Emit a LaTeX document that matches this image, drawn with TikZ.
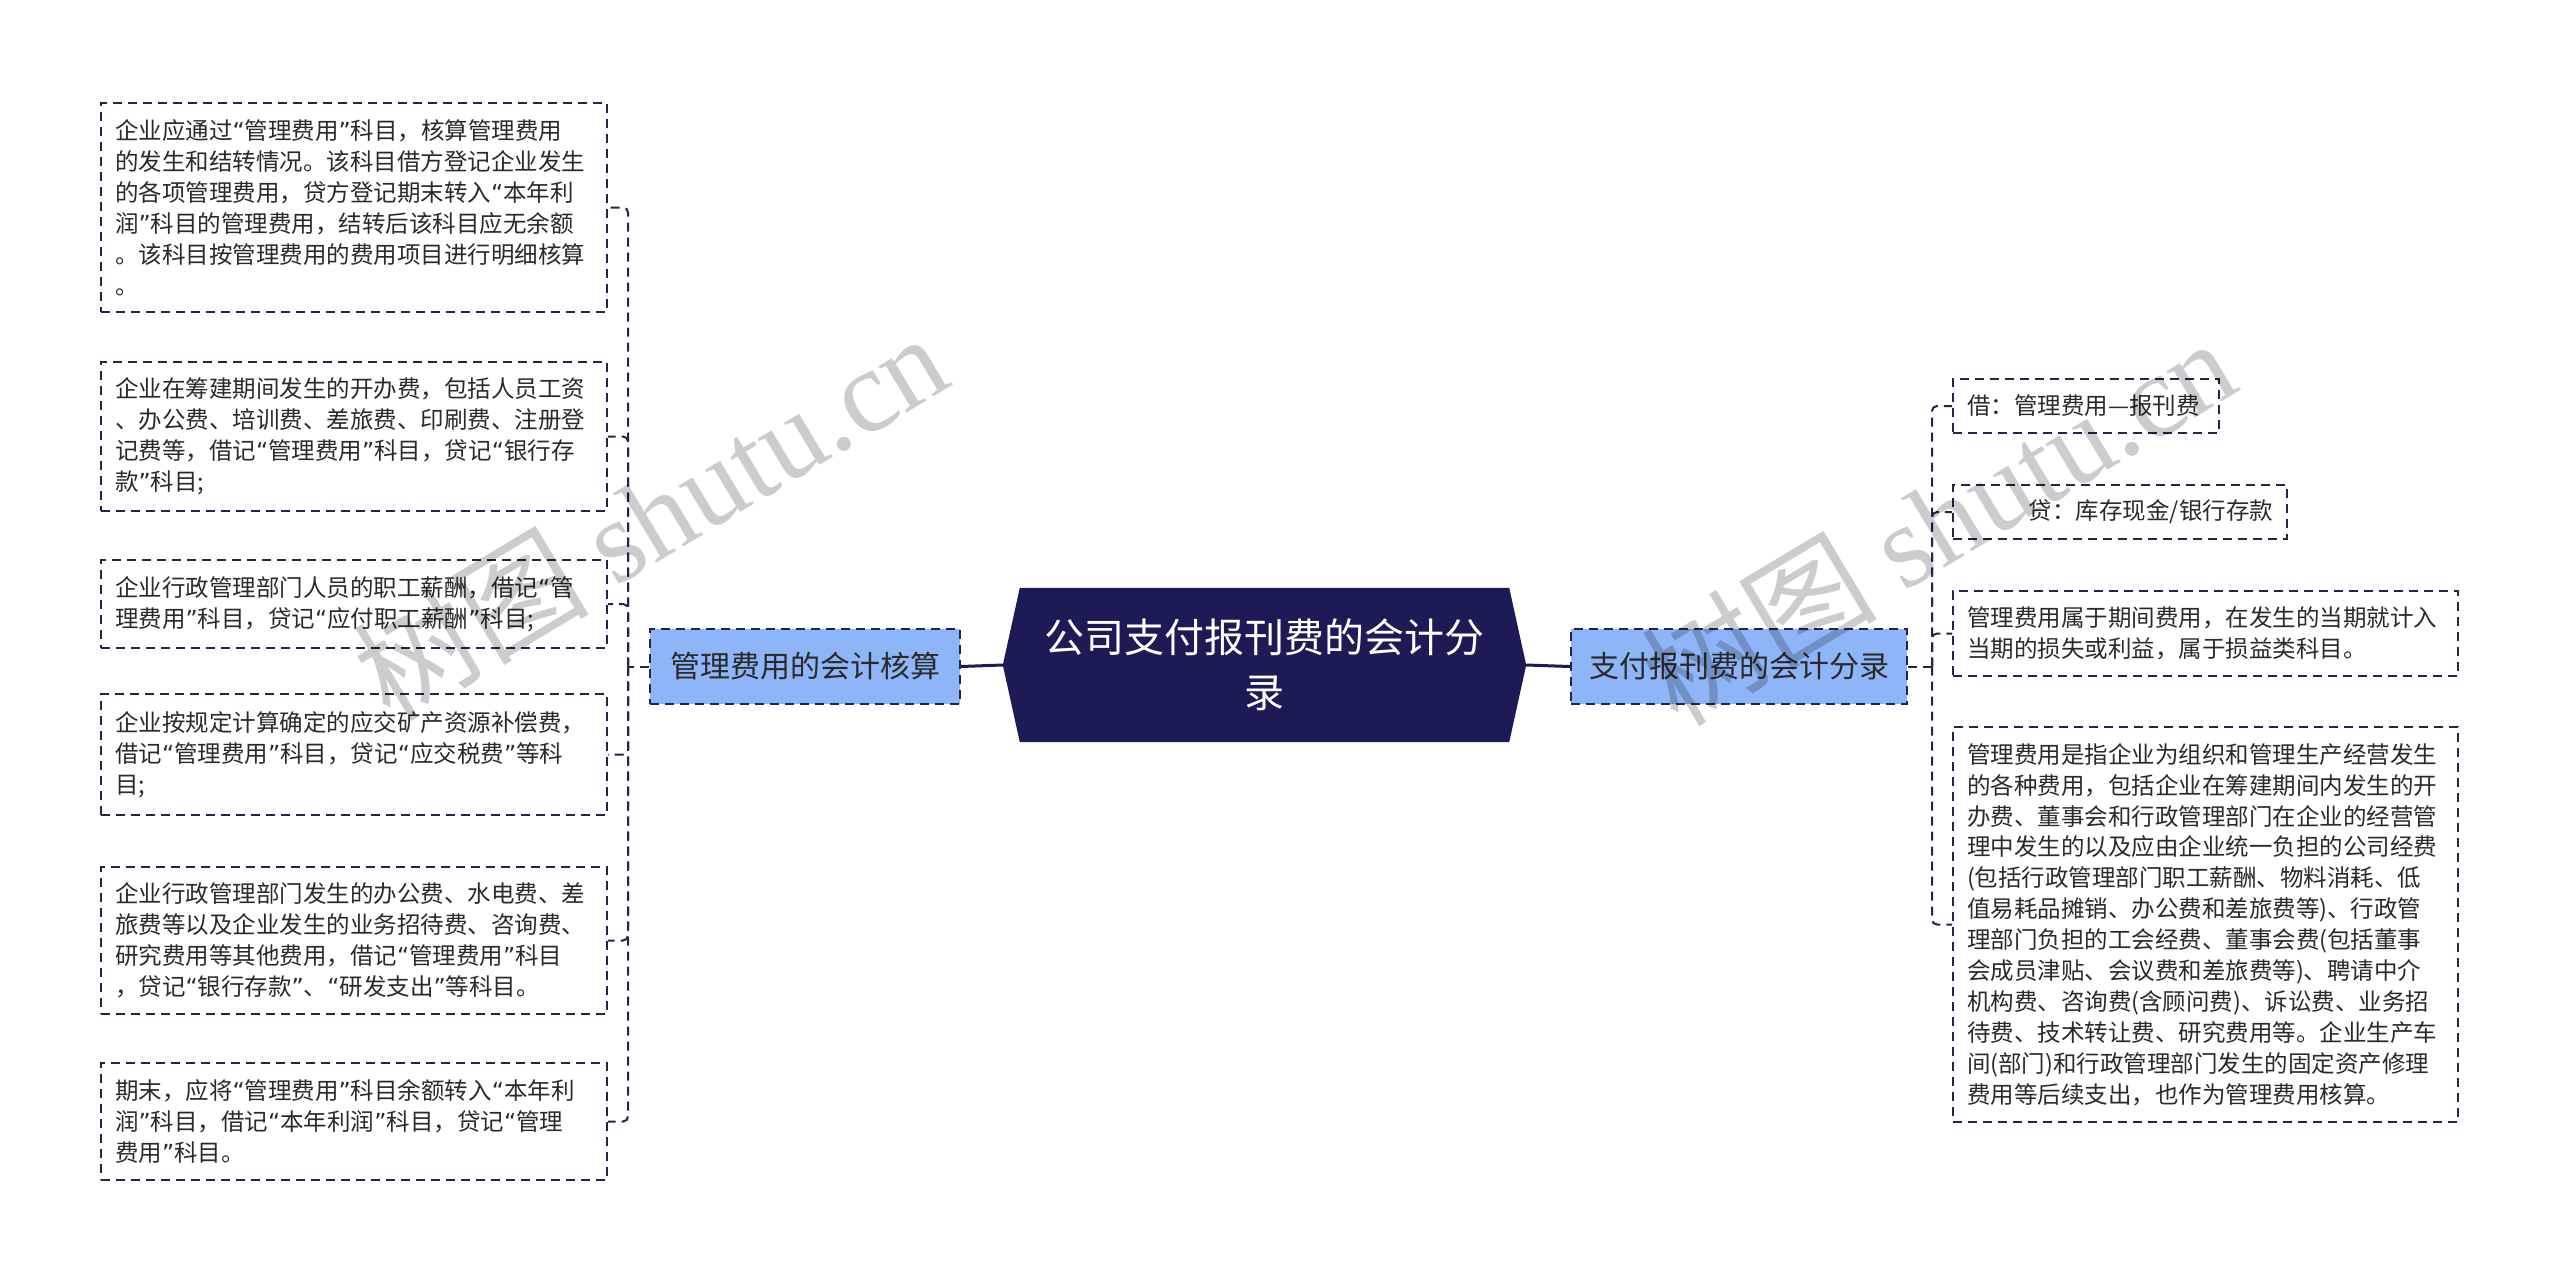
\documentclass[tikz,border=0pt]{standalone}
\usepackage{fontspec}
\setmainfont{Noto Sans CJK SC}
\newfontfamily\wmserif{Liberation Serif}
\newfontfamily\qf{DejaVu Sans}
\usetikzlibrary{calc,backgrounds}
\definecolor{navy}{HTML}{1C1B56}
\definecolor{lineC}{HTML}{24244A}
\definecolor{blueC}{HTML}{8EB5F7}
\definecolor{txt}{HTML}{2A2A2A}
\tikzset{
  leaf/.style={draw=lineC, line width=2pt, dash pattern=on 9pt off 6pt, fill=white,
    font=\fontsize{23.5}{30.9}\selectfont, text=txt, align=left,
    inner xsep=14pt, inner ysep=0pt},
  branch/.style={draw=lineC, line width=2pt, dash pattern=on 9pt off 6pt, fill=blueC,
    font=\fontsize{30}{36}\selectfont, text=txt, inner sep=0pt, minimum height=75pt},
  conn/.style={draw=lineC, line width=2pt, dash pattern=on 9pt off 6pt, rounded corners=5pt},
  mainconn/.style={draw=navy, line width=3pt},
  wm/.style={text=black, opacity=0.2, inner sep=0pt, rotate=31}
}
\begin{document}
\begin{tikzpicture}[x=1pt,y=-1pt]
\useasboundingbox (0,0) rectangle (2560,1285);

% central topic
\node[text=white, align=center, font=\fontsize{40}{55}\selectfont,
      minimum width=523pt, minimum height=154pt, inner sep=0pt] (C) at (1264.5,665)
      {公司支付报刊费的会计分\\录};
\begin{pgfonlayer}{background}
\fill[white] (0,0) rectangle (2560,1285);
\fill[navy] (C.west) -- ($(C.north west)+(17,0)$) -- ($(C.north east)+(-17,0)$) -- (C.east)
  -- ($(C.south east)+(-17,0)$) -- ($(C.south west)+(17,0)$) -- cycle;
\end{pgfonlayer}

% branches
\node[branch, minimum width=310pt] (L) at (805,666.5) {管理费用的会计核算};
\node[branch, minimum width=336pt] (R) at (1739,666.5) {支付报刊费的会计分录};

% left leaves
\node[leaf, text width=478pt, minimum height=209pt] (B1) at (354,207.5)
 {企业应通过{\qf“}管理费用{\qf”}科目，核算管理费用\\的发生和结转情况。该科目借方登记企业发生\\的各项管理费用，贷方登记期末转入{\qf“}本年利\\润{\qf”}科目的管理费用，结转后该科目应无余额\\。该科目按管理费用的费用项目进行明细核算\\。};
\node[leaf, text width=478pt, minimum height=149pt] (B2) at (354,436.5)
 {企业在筹建期间发生的开办费，包括人员工资\\、办公费、培训费、差旅费、印刷费、注册登\\记费等，借记{\qf“}管理费用{\qf”}科目，贷记{\qf“}银行存\\款{\qf”}科目;};
\node[leaf, text width=478pt, minimum height=88pt] (B3) at (354,604)
 {企业行政管理部门人员的职工薪酬，借记{\qf“}管\\理费用{\qf”}科目，贷记{\qf“}应付职工薪酬{\qf”}科目;};
\node[leaf, text width=478pt, minimum height=121pt] (B4) at (354,754.5)
 {企业按规定计算确定的应交矿产资源补偿费，\\借记{\qf“}管理费用{\qf”}科目，贷记{\qf“}应交税费{\qf”}等科\\目;};
\node[leaf, text width=478pt, minimum height=147pt] (B5) at (354,940.5)
 {企业行政管理部门发生的办公费、水电费、差\\旅费等以及企业发生的业务招待费、咨询费、\\研究费用等其他费用，借记{\qf“}管理费用{\qf”}科目\\，贷记{\qf“}银行存款{\qf”}、{\qf“}研发支出{\qf”}等科目。};
\node[leaf, text width=478pt, minimum height=117pt] (B6) at (354,1121.5)
 {期末，应将{\qf“}管理费用{\qf”}科目余额转入{\qf“}本年利\\润{\qf”}科目，借记{\qf“}本年利润{\qf”}科目，贷记{\qf“}管理\\费用{\qf”}科目。};

% right leaves
\node[leaf, text width=238pt, minimum height=54pt] (R1) at (2086,406)
 {借：管理费用—报刊费};
\node[leaf, text width=306pt, minimum height=54pt, align=right] (R2) at (2120,512)
 {贷：库存现金/银行存款};
\node[leaf, text width=477pt, minimum height=85pt] (R3) at (2205.5,633.5)
 {管理费用属于期间费用，在发生的当期就计入\\当期的损失或利益，属于损益类科目。};
\node[leaf, text width=477pt, minimum height=395pt] (R4) at (2205.5,924.5)
 {管理费用是指企业为组织和管理生产经营发生\\的各种费用，包括企业在筹建期间内发生的开\\办费、董事会和行政管理部门在企业的经营管\\理中发生的以及应由企业统一负担的公司经费\\(包括行政管理部门职工薪酬、物料消耗、低\\值易耗品摊销、办公费和差旅费等)、行政管\\理部门负担的工会经费、董事会费(包括董事\\会成员津贴、会议费和差旅费等)、聘请中介\\机构费、咨询费(含顾问费)、诉讼费、业务招\\待费、技术转让费、研究费用等。企业生产车\\间(部门)和行政管理部门发生的固定资产修理\\费用等后续支出，也作为管理费用核算。};

% connectors
\draw[mainconn] (L.east) -- (C.west);
\draw[mainconn] (C.east) -- (R.west);

\coordinate (lb) at (628,666.5);
\draw[conn] (L.west) -- (lb);
\foreach \b in {B1,B2,B3,B4,B5,B6}{\draw[conn] (lb) |- (\b.east);}

\coordinate (rb) at (1932,666.5);
\draw[conn] (R.east) -- (rb);
\foreach \b in {R1,R2,R3,R4}{\draw[conn] (rb) |- (\b.west);}

% watermarks
\node[wm, font=\fontsize{118}{118}\selectfont] (wm1) at (650,515) {树图 {\wmserif shutu.cn}};
\node[wm, font=\fontsize{118}{118}\selectfont] (wm2) at (1938,520) {树图 {\wmserif shutu.cn}};
\end{tikzpicture}
\end{document}
